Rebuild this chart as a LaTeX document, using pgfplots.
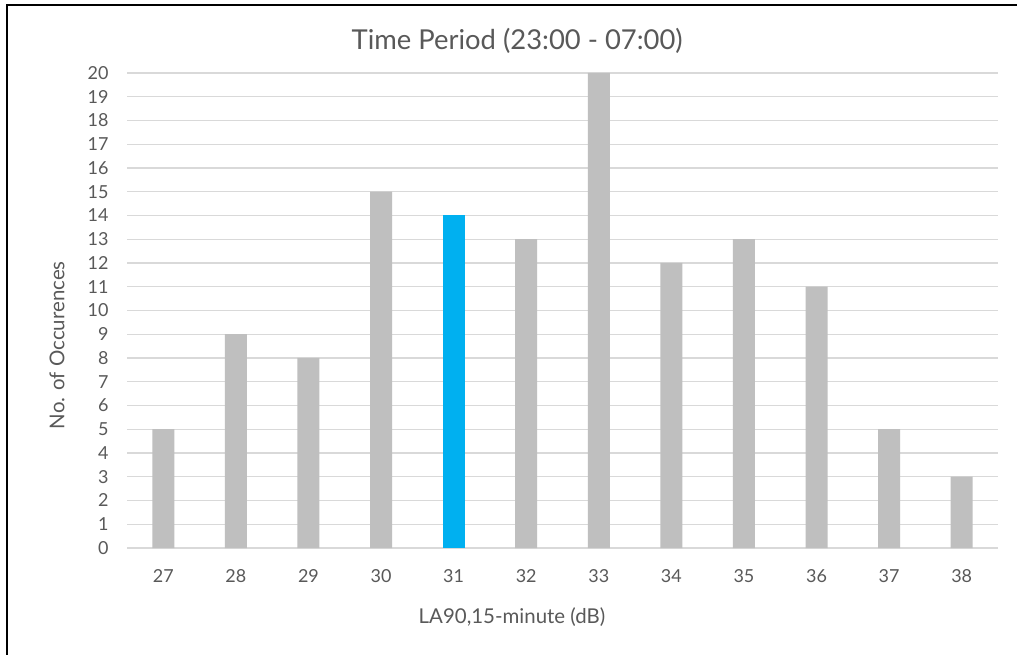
\documentclass[border=0pt]{standalone}
\usepackage{pgfplots}
\pgfplotsset{compat=1.18}
\usepackage{fontspec}
\setmainfont{Lato}
\definecolor{txt}{HTML}{595959}
\definecolor{gridc}{HTML}{D9D9D9}
\definecolor{barg}{HTML}{BFBFBF}
\definecolor{barb}{HTML}{00B0F0}
\begin{document}
\begin{tikzpicture}
\useasboundingbox (0,0) rectangle (1017bp,655bp);
\fill[white] (0,0) rectangle (1017bp,655bp);
\draw[line width=2.5bp, black] (7bp,0) -- (7bp,650bp) -- (1017bp,650bp);
\begin{axis}[
  at={(127bp,107bp)}, anchor=south west,
  width=871bp, height=475bp, scale only axis,
  xmin=-0.5, xmax=11.5, ymin=0, ymax=20,
  ybar, bar width=22bp, bar shift=0pt,
  xtick={0,...,11},
  xticklabels={27,28,29,30,31,32,33,34,35,36,37,38},
  ytick={0,...,20},
  ymajorgrids, grid style={gridc, line width=1.2bp},
  axis line style={draw=none},
  axis x line*=bottom,
  major tick length=0pt,
  tick label style={txt, font=\fontsize{18}{20}\selectfont},
  /pgf/number format/assume math mode=true,
  xticklabel style={yshift=-18bp},
  yticklabel style={xshift=-15bp},
  title={Time Period (23:00 - 07:00)},
  title style={txt, font=\fontsize{27.5}{30}\selectfont, at={(axis description cs:0.448,1.0547)}, anchor=center},
  xlabel={LA90,15-minute (dB)},
  xlabel style={txt, font=\fontsize{20.5}{22}\selectfont, at={(axis description cs:0.442,-0.1453)}, anchor=center},
  ylabel={No. of Occurences},
  ylabel style={txt, font=\fontsize{20.5}{22}\selectfont, at={(axis description cs:-0.0804,0.427)}, anchor=center},
  clip=false,
]
\draw[gridc, line width=1.5bp] (axis cs:-0.5,0) -- (axis cs:11.5,0);
\addplot[fill=barg, draw=none] coordinates {(0,5) (1,9) (2,8) (3,15) (5,13) (6,20) (7,12) (8,13) (9,11) (10,5) (11,3)};
\addplot[fill=barb, draw=none] coordinates {(4,14)};
\end{axis}
\end{tikzpicture}
\end{document}
